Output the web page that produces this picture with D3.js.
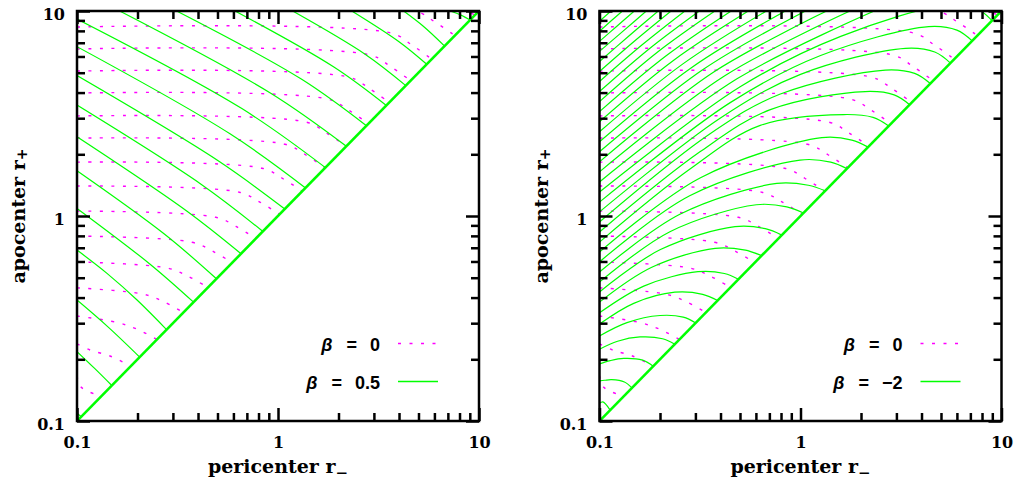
<!DOCTYPE html>
<html>
<head>
<meta charset="utf-8">
<script src="https://cdn.jsdelivr.net/npm/d3@7"></script>
<style>
  body { margin: 0; background: #fff; }
  .tick text { font-family: "DejaVu Serif", serif; font-weight: bold; font-size: 16px; fill: #000; }
  .tick line { stroke: #000; stroke-width: 2.5; }
  .title { font-family: "DejaVu Serif", serif; font-weight: bold; font-size: 19px; }
  .legend { font-family: "Liberation Sans", Arial, sans-serif; font-weight: bold; font-size: 18px; }
</style>
</head>
<body>
<div id="chart"></div>
<script>
// axis values
const majorTicks = [0.1, 1, 10];
const minorTicks = [0.2, 0.3, 0.4, 0.5, 0.6, 0.7, 0.8, 0.9, 2, 3, 4, 5, 6, 7, 8, 9];
const diagonal = [[0.1, 0.1], [10, 10]];

// beta = 0 contours (magenta dotted, same in both panels), points [r-, r+]
const beta0Curves = [
  [[7.2, 10.9], [8.2, 10.3], [9.55, 9.55]],
  [[0.1, 10.72], [4.786, 10.0], [6.026, 8.851], [7.586, 7.586]],
  [[0.1, 8.356], [3.673, 7.798], [4.624, 6.839], [5.821, 5.821]],
  [[0.1, 6.531], [2.884, 6.095], [3.631, 5.358], [4.571, 4.571]],
  [[0.1, 5.093], [2.259, 4.753], [2.844, 4.188], [3.581, 3.581]],
  [[0.1, 3.981], [1.778, 3.715], [2.239, 3.289], [2.818, 2.818]],
  [[0.1, 3.076], [1.380, 2.871], [1.738, 2.547], [2.188, 2.188]],
  [[0.1, 2.399], [1.084, 2.239], [1.365, 1.995], [1.718, 1.718]],
  [[0.1, 1.832], [0.834, 1.71], [1.05, 1.528], [1.321, 1.321]],
  [[0.1, 1.4], [0.643, 1.306], [0.809, 1.172], [1.019, 1.019]],
  [[0.1, 1.057], [0.49, 0.986], [0.617, 0.891], [0.776, 0.776]],
  [[0.1, 0.798], [0.373, 0.745], [0.470, 0.676], [0.592, 0.592]],
  [[0.1, 0.597], [0.283, 0.557], [0.356, 0.509], [0.448, 0.448]],
  [[0.1, 0.446], [0.213, 0.416], [0.269, 0.383], [0.338, 0.338]],
  [[0.1, 0.325], [0.157, 0.303], [0.198, 0.281], [0.250, 0.250]],
  [[0.1, 0.238], [0.116, 0.222], [0.147, 0.207], [0.185, 0.185]],
  [[0.1, 0.166], [0.105, 0.146], [0.132, 0.132]]
];

// beta = 0.5 contours (left panel, green)
const betaHalfCurves = [
  [[0.1, 0.109], [0.105, 0.105]],
  [[0.1, 0.218], [0.122, 0.181], [0.149, 0.149]],
  [[0.1, 0.389], [0.143, 0.287], [0.205, 0.205]],
  [[0.1, 0.682], [0.141, 0.525], [0.199, 0.389], [0.279, 0.279]],
  [[0.1, 1.089], [0.231, 0.582], [0.380, 0.380]],
  [[0.1, 1.663], [0.272, 0.817], [0.494, 0.494]],
  [[0.1, 2.438], [0.350, 1.062], [0.655, 0.655]],
  [[0.1, 3.475], [0.414, 1.429], [0.841, 0.841]],
  [[0.1, 4.84], [0.506, 1.854], [1.081, 1.081]],
  [[0.1, 6.70], [0.577, 2.518], [1.371, 1.371]],
  [[0.1, 9.14], [0.661, 3.342], [1.722, 1.722]],
  [[0.163, 10], [0.916, 3.98], [2.188, 2.188]],
  [[0.313, 10], [1.306, 4.656], [2.754, 2.754]],
  [[0.611, 10], [1.897, 5.33], [3.46, 3.46]],
  [[1.183, 10], [2.723, 6.14], [4.325, 4.325]],
  [[2.328, 10], [4.0, 7.08], [5.495, 5.495]],
  [[4.217, 10], [5.284, 8.43], [6.745, 6.745]],
  [[7.194, 10], [8.13, 9.55], [9.036, 9.036]]
];

// beta = -2 contours (right panel, green)
const betaMinus2Curves = [
  [[0.1, 8.913], [0.114, 10]],
  [[0.1, 7.962], [0.114, 8.933], [0.130, 10]],
  [[0.1, 7.112], [0.122, 8.433], [0.149, 10]],
  [[0.1, 6.353], [0.131, 7.980], [0.171, 10]],
  [[0.1, 5.675], [0.140, 7.551], [0.196, 10]],
  [[0.1, 5.070], [0.150, 7.161], [0.227, 10]],
  [[0.1, 4.529], [0.163, 6.839], [0.266, 10]],
  [[0.1, 4.046], [0.177, 6.546], [0.314, 10]],
  [[0.1, 3.614], [0.194, 6.295], [0.375, 10]],
  [[0.1, 3.228], [0.213, 6.012], [0.452, 10]],
  [[0.1, 2.884], [0.234, 5.754], [0.550, 10]],
  [[0.1, 2.576], [0.260, 5.521], [0.676, 10]],
  [[0.1, 2.301], [0.290, 5.333], [0.841, 10]],
  [[0.1, 2.056], [0.326, 5.164], [1.059, 10]],
  [[0.1, 1.837], [0.367, 5.012], [1.349, 10]],
  [[0.1, 1.641], [0.420, 4.831], [1.762, 10]],
  [[0.1, 1.466], [0.483, 4.667], [2.328, 10]],
  [[0.1, 1.309], [0.501, 4.266], [1.585, 7.516], [5.495, 10.72], [7.551, 10.26], [8.974, 8.974]],
  [[0.1, 1.169], [0.447, 3.573], [1.259, 6.067], [4.345, 8.395], [5.998, 8.064], [7.145, 7.145]],
  [[0.1, 1.047], [0.398, 3.0], [1.0, 4.909], [3.327, 6.577], [4.656, 6.310], [5.572, 5.572]],
  [[0.1, 0.935], [0.355, 2.518], [0.794, 3.936], [2.642, 5.152], [3.698, 4.961], [4.426, 4.426]],
  [[0.1, 0.836], [0.316, 2.056], [0.708, 3.304], [2.099, 4.046], [2.924, 3.899], [3.491, 3.491]],
  [[0.1, 0.746], [0.282, 1.694], [0.631, 2.767], [1.641, 3.126], [2.296, 3.027], [2.748, 2.748]],
  [[0.1, 0.667], [0.318, 1.538], [1.276, 2.410], [1.801, 2.347], [2.168, 2.168]],
  [[0.1, 0.597], [0.281, 1.256], [0.995, 1.875], [1.413, 1.832], [1.702, 1.702]],
  [[0.1, 0.533], [0.251, 1.019], [0.762, 1.442], [1.094, 1.413], [1.327, 1.327]],
  [[0.1, 0.476], [0.224, 0.838], [0.603, 1.135], [0.855, 1.109], [1.035, 1.035]],
  [[0.1, 0.426], [0.201, 0.686], [0.472, 0.887], [0.668, 0.867], [0.807, 0.807]],
  [[0.1, 0.380], [0.182, 0.562], [0.376, 0.695], [0.532, 0.681], [0.641, 0.641]],
  [[0.1, 0.337], [0.166, 0.455], [0.309, 0.535], [0.418, 0.524], [0.491, 0.491]],
  [[0.1, 0.297], [0.148, 0.375], [0.237, 0.425], [0.326, 0.415], [0.387, 0.387]],
  [[0.1, 0.260], [0.137, 0.302], [0.200, 0.327], [0.261, 0.321], [0.301, 0.301]],
  [[0.1, 0.224], [0.123, 0.245], [0.159, 0.257], [0.206, 0.252], [0.237, 0.237]],
  [[0.1, 0.190], [0.113, 0.197], [0.132, 0.202], [0.164, 0.198], [0.185, 0.185]],
  [[0.1, 0.157], [0.106, 0.158], [0.115, 0.159], [0.133, 0.155], [0.145, 0.145]],
  [[0.1, 0.122], [0.104, 0.124], [0.113, 0.113]]
];

const panels = [
  { left: 77, green: betaHalfCurves, labels: ["0", "0.5"] },
  { left: 599.5, green: betaMinus2Curves, labels: ["0", "\u22122"] }
];

const W = 1016, H = 485;
const plotW = 402, plotTop = 11, plotBottom = 421;
const magenta = "#ff00ff", green = "#00ff00";

const svg = d3.select("#chart").append("svg")
  .attr("width", W).attr("height", H);

panels.forEach((p, i) => {
  const x = d3.scaleLog().domain([0.1, 10]).range([p.left, p.left + plotW]);
  const y = d3.scaleLog().domain([0.1, 10]).range([plotBottom, plotTop]);
  const g = svg.append("g");

  const clipId = "clip" + i;
  svg.append("clipPath").attr("id", clipId).append("rect")
    .attr("x", p.left).attr("y", plotTop).attr("width", plotW).attr("height", plotBottom - plotTop);

  const line = d3.line()
    .x(d => x(d[0])).y(d => y(d[1]))
    .curve(d3.curveCatmullRom.alpha(0.5));

  const plot = g.append("g").attr("clip-path", `url(#${clipId})`);

  plot.selectAll("path.iso").data(beta0Curves).enter().append("path")
    .attr("class", "iso")
    .attr("d", line)
    .attr("fill", "none").attr("stroke", magenta)
    .attr("stroke-width", 1.4).attr("stroke-dasharray", "3,8.5");

  plot.selectAll("path.aniso").data(p.green).enter().append("path")
    .attr("class", "aniso")
    .attr("d", line)
    .attr("fill", "none").attr("stroke", green).attr("stroke-width", 1.2);

  plot.append("path").datum(diagonal)
    .attr("d", d3.line().x(d => x(d[0])).y(d => y(d[1])))
    .attr("fill", "none").attr("stroke", green).attr("stroke-width", 2.6);

  // frame
  g.append("rect")
    .attr("x", p.left).attr("y", plotTop).attr("width", plotW).attr("height", plotBottom - plotTop)
    .attr("fill", "none").attr("stroke", "#000").attr("stroke-width", 2.5);

  // ticks on all four sides, pointing inward
  const sides = [
    { gen: d3.axisBottom(x), t: `translate(0,${plotBottom})`, labels: true },
    { gen: d3.axisTop(x), t: `translate(0,${plotTop})`, labels: false },
    { gen: d3.axisLeft(y), t: `translate(${p.left},0)`, labels: true },
    { gen: d3.axisRight(y), t: `translate(${p.left + plotW},0)`, labels: false }
  ];
  sides.forEach((s, k) => {
    const minor = g.append("g").attr("transform", s.t)
      .call(s.gen.tickValues(minorTicks).tickSize(-8).tickSizeOuter(0).tickFormat(""));
    minor.select(".domain").remove();
    const major = g.append("g").attr("transform", s.t)
      .call(s.gen.tickValues(majorTicks).tickSize(-13).tickSizeOuter(0)
        .tickPadding(k === 2 ? 12 : 17)
        .tickFormat(s.labels ? d3.format("~g") : ""));
    major.select(".domain").remove();
    if (k === 0) major.selectAll("text").attr("dy", "0.62em");
    if (k === 2) major.selectAll("text").attr("dy", "0.55em");
  });

  // axis titles
  const xt = g.append("text").attr("class", "title")
    .attr("x", p.left + plotW / 2).attr("y", 473).attr("text-anchor", "middle");
  xt.append("tspan").text("pericenter r");
  xt.append("tspan").attr("dy", 5).attr("font-size", 15).text("\u2212");

  const yt = g.append("text").attr("class", "title")
    .attr("transform", `translate(${p.left - 52},${(plotTop + plotBottom) / 2}) rotate(-90)`)
    .attr("text-anchor", "middle");
  yt.append("tspan").text("apocenter r");
  yt.append("tspan").attr("dy", 2).attr("font-size", 14).text("+");

  // legend
  const right = p.left + plotW;
  const rows = [{ yy: 351, label: p.labels[0], dotted: true }, { yy: 389, label: p.labels[1], dotted: false }];
  rows.forEach(r => {
    const val = g.append("text").attr("class", "legend")
      .attr("x", right - 99).attr("y", r.yy).attr("text-anchor", "end").text(r.label);
    const vw = val.node().getComputedTextLength();
    const eq = g.append("text").attr("class", "legend")
      .attr("x", right - 99 - vw - 13).attr("y", r.yy).attr("text-anchor", "end").text("=");
    const ew = eq.node().getComputedTextLength();
    g.append("text").attr("class", "legend").attr("font-style", "italic")
      .attr("x", right - 99 - vw - 13 - ew - 14).attr("y", r.yy).attr("text-anchor", "end").text("\u03b2");
    g.append("line")
      .attr("x1", right - 81).attr("x2", right - 41)
      .attr("y1", r.yy - 7.5).attr("y2", r.yy - 7.5)
      .style("stroke", r.dotted ? magenta : green)
      .style("stroke-width", r.dotted ? 1.4 : 1.3)
      .style("stroke-dasharray", r.dotted ? "3,8.5" : "none");
  });
});
</script>
</body>
</html>
